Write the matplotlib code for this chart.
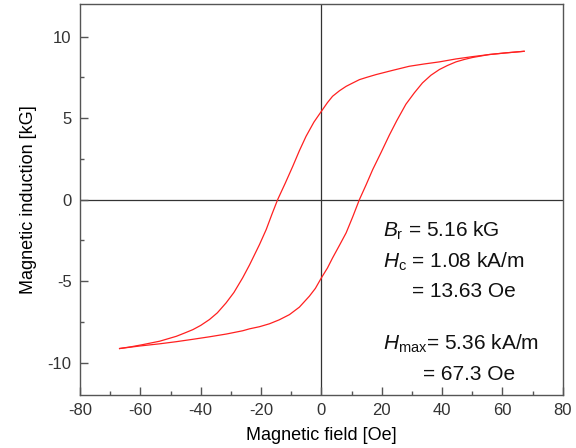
import numpy as np
import matplotlib
matplotlib.use("Agg")
import matplotlib.pyplot as plt
from matplotlib.ticker import MultipleLocator

plt.rcParams['font.family'] = ['Liberation Sans', 'DejaVu Sans']
plt.rcParams['mathtext.fontset'] = 'custom'
plt.rcParams['mathtext.rm'] = 'Liberation Sans'
plt.rcParams['mathtext.it'] = 'Liberation Sans:italic'
plt.rcParams['axes.unicode_minus'] = False

# Descending (upper) branch
upper_x = [67.2, 61, 55.6, 50, 44.6, 39.1, 34, 29.1, 23.6, 18.1, 15, 12.6, 10, 8.2, 6, 3.7,
           2, 0, -2.5, -5.1, -7.3, -9.5, -12, -14.5, -16.4, -18.3, -20.5, -23.8, -26.1,
           -29, -31.6, -34.5, -37.1, -40, -42.6, -45.5, -48.1, -53.6, -59.2, -63, -66.9]
upper_y = [9.1, 9.0, 8.9, 8.77, 8.63, 8.45, 8.32, 8.18, 7.93, 7.67, 7.5, 7.36, 7.12, 6.95,
           6.68, 6.34, 5.95, 5.42, 4.75, 3.88, 3.0, 2.04, 1.0, 0.0, -0.9, -1.84, -2.75,
           -4.0, -4.8, -5.7, -6.34, -6.95, -7.36, -7.72, -7.98, -8.2, -8.39, -8.69, -8.9,
           -9.03, -9.14]
# Ascending (lower) branch
lower_x = [-66.9, -60, -53.6, -48.1, -42.5, -37.1, -31.5, -26.1, -23.8, -20.5, -17.2, -14,
           -10.6, -7.3, -4.0, -2, 0, 2, 3.7, 6, 8.2, 10.4, 12.6, 14.8, 17, 19.8, 22.5, 25,
           28, 30.8, 33.5, 36.3, 39.1, 41.8, 44.6, 47.4, 50.1, 55.6, 61, 67.2]
lower_y = [-9.14, -8.98, -8.85, -8.72, -8.57, -8.42, -8.25, -8.05, -7.93, -7.8, -7.62,
           -7.38, -7.06, -6.6, -5.93, -5.45, -4.8, -4.2, -3.58, -2.8, -2.04, -1.05, 0.0,
           0.9, 1.84, 2.9, 3.95, 4.85, 5.85, 6.55, 7.16, 7.63, 7.98, 8.23, 8.45, 8.6,
           8.72, 8.9, 9.0, 9.1]

fig = plt.figure(figsize=(5.76, 4.48), dpi=100)
ax = fig.add_axes([0.139, 0.118, 0.838, 0.873])

red = '#ff2020'
ax.plot(upper_x, upper_y, color=red, lw=0.9, solid_joinstyle='round')
ax.plot(lower_x, lower_y, color=red, lw=0.9, solid_joinstyle='round')

ax.axhline(0, color='#333333', lw=0.9, zorder=0)
ax.axvline(0, color='#333333', lw=0.9, zorder=0)

ax.set_xlim(-80, 80)
ax.set_ylim(-12, 12)
ax.xaxis.set_major_locator(MultipleLocator(20))
ax.xaxis.set_minor_locator(MultipleLocator(10))
ax.yaxis.set_major_locator(MultipleLocator(5))
ax.yaxis.set_minor_locator(MultipleLocator(2.5))
ax.tick_params(which='both', direction='in', colors='#555555', labelcolor='#333333',
               labelsize=12, top=False, right=False, width=1)
ax.tick_params(which='major', length=6, pad=6)
ax.tick_params(which='minor', length=3)
for s in ax.spines.values():
    s.set_color('#555555')
    s.set_linewidth(1)

ax.set_xlabel('Magnetic field [Oe]', fontsize=13, labelpad=6)
ax.set_ylabel('Magnetic induction [kG]', fontsize=13, labelpad=8)

fs = 15
def px(xp, yp):
    return fig.transFigure.inverted().transform((xp, 448 - yp))
for (xp, yp, s) in [(383, 237, r'$B_{\mathrm{r}}$ = 5.16 kG'),
                    (383, 268, r'$H_{\mathrm{c}}$ = 1.08 kA/m'),
                    (412, 297, '= 13.63 Oe'),
                    (383, 350, r'$H_{\mathrm{max}}$= 5.36 kA/m'),
                    (423, 380, '= 67.3 Oe')]:
    fx, fy = px(xp, yp)
    fig.text(fx, fy, s, fontsize=fs, va='baseline', color='#111111')

fig.savefig('out.png', dpi=100)
